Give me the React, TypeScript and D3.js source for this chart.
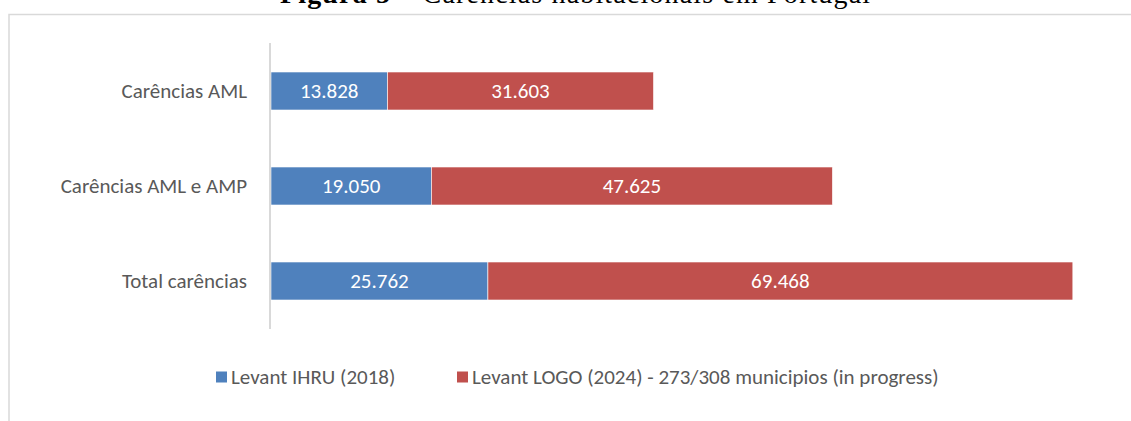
import React, { useEffect, useRef } from 'react'
import * as d3 from 'd3'

const categories = ['Carências AML', 'Carências AML e AMP', 'Total carências']
const seriesNames = ['Levant IHRU (2018)', 'Levant LOGO (2024) - 273/308 municipios (in progress)']
const ihru = [13828, 19050, 25762]
const logo = [31603, 47625, 69468]
const colors = ['#4F81BD', '#C0504D']

const W = 1131
const H = 421
const FONT = 'Carlito, Calibri, "Liberation Sans", sans-serif'

const fmt = (v: number) => d3.format(',')(v).replace(/,/g, '.')

export default function App() {
	const ref = useRef<SVGSVGElement>(null)

	useEffect(() => {
		const svg = d3.select(ref.current)
		svg.selectAll('*').remove()

		// caption above the frame, cut off by the page top like in the source
		const title = svg
			.append('text')
			.attr('x', 280)
			.attr('y', 3)
			.attr('textLength', 590)
			.attr('lengthAdjust', 'spacing')
			.style('font-family', '"Liberation Serif", serif')
			.style('font-size', '28px')
			.attr('fill', '#000')
		title.append('tspan').style('font-weight', 'bold').text('Figura 5 – ')
		title.append('tspan').text('Carências habitacionais em Portugal')

		// chart frame
		svg
			.append('rect')
			.attr('x', 9)
			.attr('y', 14.5)
			.attr('width', W + 10)
			.attr('height', H)
			.attr('fill', 'none')
			.attr('stroke', '#D9D9D9')
			.attr('stroke-width', 1.5)

		const x = d3.scaleLinear().domain([0, 100000]).range([271, 1113])
		const y = d3
			.scaleBand()
			.domain(categories)
			.range([43.5, 328.5])
			.paddingInner(0.6)
			.paddingOuter(0.3)

		const rows = categories.map((c, i) => ({ cat: c, vals: [ihru[i], logo[i]] }))
		const segs = rows.flatMap((r) => {
			let acc = 0
			return r.vals.map((v, k) => {
				const s = { cat: r.cat, k, v, x0: acc, x1: acc + v }
				acc += v
				return s
			})
		})

		const g = svg.append('g')

		g.selectAll('rect.bar')
			.data(segs)
			.enter()
			.append('rect')
			.attr('class', 'bar')
			.attr('x', (d) => x(d.x0))
			.attr('y', (d) => y(d.cat)!)
			.attr('width', (d) => x(d.x1) - x(d.x0))
			.attr('height', y.bandwidth())
			.attr('fill', (d) => colors[d.k])
			.attr('stroke', '#fff')
			.attr('stroke-width', 0.6)

		g.selectAll('text.val')
			.data(segs)
			.enter()
			.append('text')
			.attr('class', 'val')
			.attr('x', (d) => (x(d.x0) + x(d.x1)) / 2)
			.attr('y', (d) => y(d.cat)! + y.bandwidth() / 2)
			.attr('dy', '0.35em')
			.attr('text-anchor', 'middle')
			.attr('fill', '#fff')
			.style('font-family', FONT)
			.style('font-size', '21px')
			.text((d) => fmt(d.v))

		// category axis
		g.append('line')
			.attr('x1', 270)
			.attr('x2', 270)
			.attr('y1', 43)
			.attr('y2', 329)
			.attr('stroke', '#D9D9D9')
			.attr('stroke-width', 2)

		g.selectAll('text.cat')
			.data(categories)
			.enter()
			.append('text')
			.attr('class', 'cat')
			.attr('x', 247)
			.attr('y', (d) => y(d)! + y.bandwidth() / 2)
			.attr('dy', '0.35em')
			.attr('text-anchor', 'end')
			.attr('fill', '#595959')
			.style('font-family', FONT)
			.style('font-size', '21px')
			.text((d) => d)

		// legend
		const legX = [216, 457]
		const leg = svg
			.selectAll('g.leg')
			.data(seriesNames)
			.enter()
			.append('g')
			.attr('class', 'leg')
			.attr('transform', (d, i) => `translate(${legX[i]}, 377)`)
		leg
			.append('rect')
			.attr('x', 0)
			.attr('y', -5.5)
			.attr('width', 11)
			.attr('height', 11)
			.attr('fill', (d, i) => colors[i])
		leg
			.append('text')
			.attr('x', 15)
			.attr('dy', '0.35em')
			.attr('fill', '#595959')
			.style('font-family', FONT)
			.style('font-size', '21px')
			.text((d) => d)
	}, [])

	return (
		<svg
			ref={ref}
			width={W}
			height={H}
			style={{ position: 'absolute', left: 0, top: 0, background: '#fff' }}
		/>
	)
}
